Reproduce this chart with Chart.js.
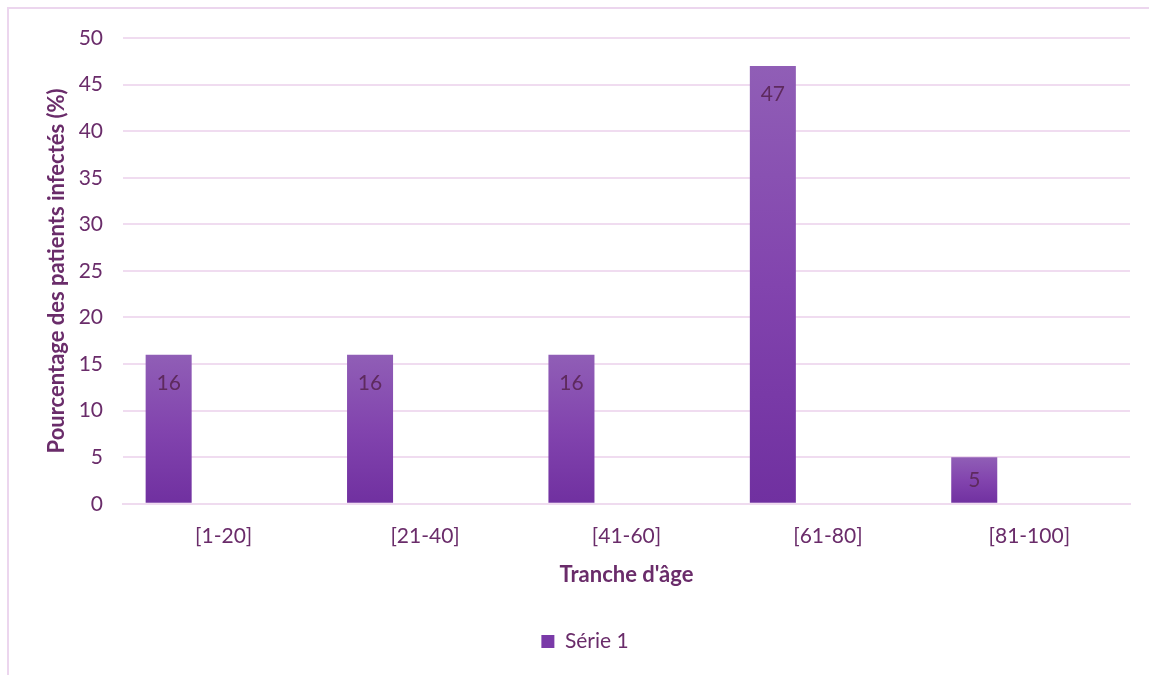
<!DOCTYPE html>
<html><head><meta charset="utf-8">
<script src="https://cdn.jsdelivr.net/npm/chart.js@4/dist/chart.umd.min.js"></script>
<style>
html,body{margin:0;padding:0;background:#fff;overflow:hidden;width:1149px;height:675px;}
#frame{position:absolute;left:7px;top:7px;width:1200px;height:700px;border:2px solid #ecd6ee;box-sizing:border-box;}
#wrap{position:absolute;left:0;top:0;width:1176px;height:675px;}
</style></head>
<body>
<div id="frame"></div>
<div id="wrap"><canvas id="c" width="1176" height="675"></canvas></div>
<script>
const categories = ['[1-20]', '[21-40]', '[41-60]', '[61-80]', '[81-100]'];
const serie1 = [16, 16, 16, 47, 5];
const emptySeries = [null, null, null, null, null];
const yTitle = 'Pourcentage des patients infectés (%)';
const xTitle = "Tranche d'âge";
const txt = '#6a2c6a';
const fontFam = 'Lato, "Open Sans", sans-serif';

function barGradient(ctx){
  const chart = ctx.chart;
  if (ctx.type !== 'data' || !chart.chartArea) return '#7b3aa8';
  const y = chart.scales.y;
  const v = ctx.raw;
  if (v == null) return '#7b3aa8';
  const top = y.getPixelForValue(v), bot = y.getPixelForValue(0);
  const g = chart.ctx.createLinearGradient(0, top, 0, bot);
  g.addColorStop(0, '#905eb6');
  g.addColorStop(0.5, '#8244ae');
  g.addColorStop(1, '#7030a0');
  return g;
}

const labelPlugin = {
  id: 'inLabels',
  afterDatasetsDraw(chart){
    const meta = chart.getDatasetMeta(0);
    const c = chart.ctx;
    c.save();
    c.font = '21px ' + fontFam;
    c.fillStyle = '#5e2a5e';
    c.textAlign = 'center';
    c.textBaseline = 'middle';
    meta.data.forEach((el, i) => {
      const v = chart.data.datasets[0].data[i];
      if (v == null) return;
      const ty = Math.min(el.y + 28, (el.y + el.base) / 2);
      c.fillText(String(v), el.x, ty);
    });
    c.restore();
  }
};

new Chart(document.getElementById('c'), {
  type: 'bar',
  data: {
    labels: categories,
    datasets: [
      {label: 'Série 1', data: serie1, backgroundColor: barGradient, borderWidth: 0},
      {label: 'Série 2', data: emptySeries, backgroundColor: '#ffffff'},
      {label: 'Série 3', data: emptySeries, backgroundColor: '#ffffff'}
    ]
  },
  options: {
    responsive: false,
    animation: false,
    events: [],
    layout: {padding: {top: 38, right: 46, left: 40, bottom: 13}},
    datasets: {bar: {categoryPercentage: 0.82, barPercentage: 0.836}},
    scales: {
      x: {
        grid: {display: false, drawTicks: false},
        border: {display: true, color: '#efdbef', width: 2},
        ticks: {color: txt, font: {size: 21, family: fontFam}, padding: 20},
        title: {display: true, text: xTitle, color: txt, font: {size: 22, weight: 'bold', family: fontFam, lineHeight: 1}, padding: {top: -5, bottom: 0}}
      },
      y: {
        min: 0, max: 50,
        afterFit: (s) => { s.width = 83; },
        ticks: {stepSize: 5, color: txt, font: {size: 21, family: fontFam}, padding: 20},
        grid: {color: '#f0dcf0', lineWidth: 2, drawTicks: false},
        border: {display: false},
        title: {display: true, text: yTitle, color: txt, font: {size: 22, weight: 'bold', family: fontFam}, padding: {top: 4, bottom: 4}}
      }
    },
    plugins: {
      legend: {
        position: 'bottom',
        labels: {
          color: txt, font: {size: 21, family: fontFam},
          boxWidth: 13, boxHeight: 13, padding: 45,
          generateLabels: (chart) => [{text: 'Série 1', fillStyle: '#7a3aa8', strokeStyle: '#7a3aa8', lineWidth: 0, datasetIndex: 0, fontColor: txt}]
        }
      },
      tooltip: {enabled: false}
    }
  },
  plugins: [labelPlugin]
});
</script>
</body></html>
